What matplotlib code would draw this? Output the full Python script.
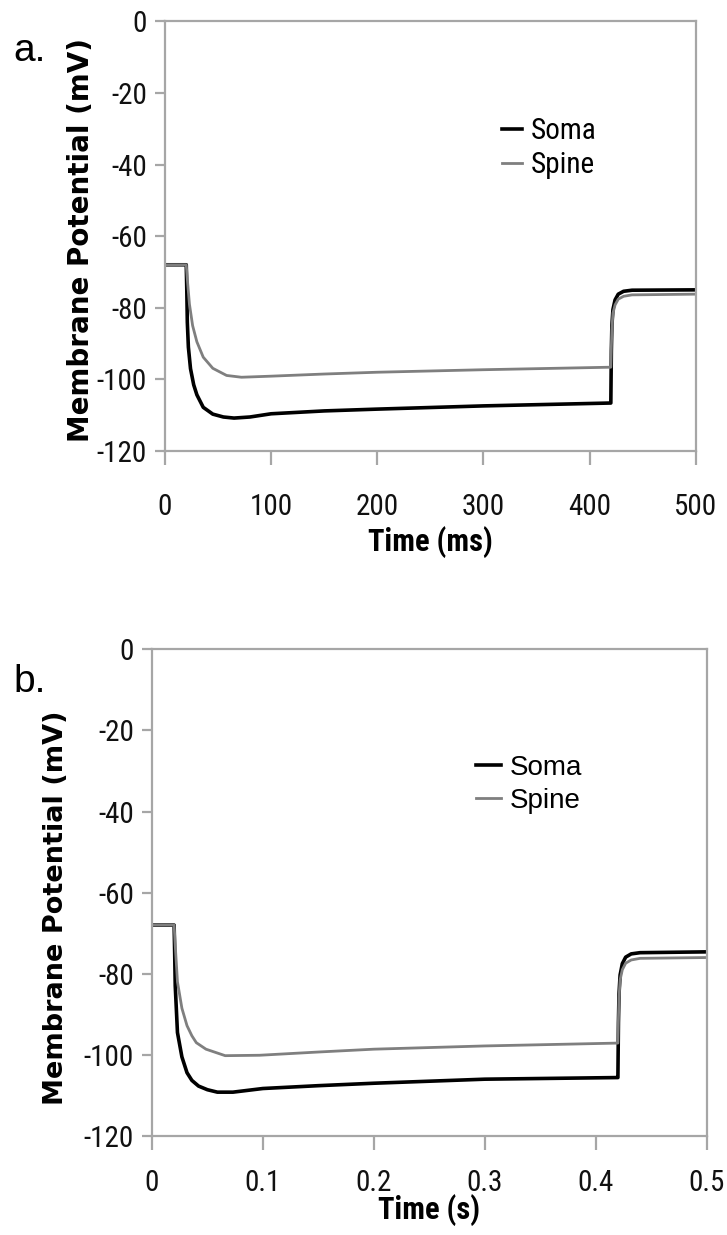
import matplotlib
matplotlib.use("Agg")
import matplotlib.pyplot as plt
from matplotlib import font_manager

plt.rcParams['axes.unicode_minus'] = False

# look for a condensed face for the numbers, else fall back
fonts = font_manager.fontManager.ttflist
names = {f.name for f in fonts}
narrow = None
for c in ['Liberation Sans Narrow', 'Arial Narrow', 'Roboto Condensed', 'Open Sans Condensed',
          'Noto Sans Condensed', 'DejaVu Sans Condensed', 'Noto Sans SemiCondensed']:
    if c in names:
        narrow = {'family': c}
        break
if narrow is None:
    for f in fonts:
        if f.stretch in ('condensed', 'semi-condensed') and f.name in ('DejaVu Sans', 'Noto Sans', 'Roboto', 'Open Sans'):
            narrow = {'family': f.name, 'stretch': f.stretch}
            break
tick_size = 21
if narrow is None:
    narrow = {'family': 'Liberation Sans'}
    tick_size = 19

# panel a: time in ms, membrane potential in mV
t_a_soma = [0, 20, 20.5, 21, 22, 24, 27, 30, 36, 45, 55, 65, 80, 100, 150, 200, 300, 419.5,
            420, 420.5, 421, 422, 424, 427, 432, 440, 500]
v_a_soma = [-68, -68, -75, -84, -91, -97, -101.5, -104.3, -107.8, -109.7, -110.5, -110.8, -110.5,
            -109.6, -108.8, -108.3, -107.4, -106.6,
            -106.6, -92, -85, -80.5, -77.8, -76.2, -75.4, -75.1, -75.0]
t_a_spine = [0, 20, 21, 23, 26, 30, 36, 45, 58, 72, 100, 150, 200, 300, 419.5,
             420, 420.5, 421, 422, 424, 427, 432, 440, 500]
v_a_spine = [-68, -68, -72, -79, -85, -89.5, -93.8, -96.9, -98.9, -99.4, -99.1, -98.5, -98.0,
             -97.3, -96.6,
             -96.6, -91, -86, -81.5, -79.2, -77.6, -76.8, -76.4, -76.2]

# panel b: time in s
t_b_soma = [0, 0.02, 0.0205, 0.021, 0.023, 0.027, 0.0316, 0.036, 0.042, 0.05, 0.059, 0.073,
            0.1, 0.15, 0.2, 0.3, 0.4195,
            0.42, 0.4205, 0.421, 0.422, 0.424, 0.427, 0.432, 0.44, 0.5]
v_b_soma = [-68, -68, -75, -83, -94.5, -100.5, -104.4, -106.3, -107.7, -108.6, -109.2, -109.2,
            -108.3, -107.6, -107.0, -106.0, -105.6,
            -105.6, -92, -85, -80.3, -77.5, -75.9, -75.1, -74.8, -74.6]
t_b_spine = [0, 0.02, 0.021, 0.023, 0.027, 0.0316, 0.036, 0.04, 0.0487, 0.066, 0.097,
             0.15, 0.2, 0.3, 0.4195,
             0.42, 0.4205, 0.421, 0.422, 0.424, 0.427, 0.432, 0.44, 0.5]
v_b_spine = [-68, -68, -73, -82, -88.5, -92.8, -95.3, -97.0, -98.6, -100.2, -100.1,
             -99.3, -98.6, -97.8, -97.1,
             -97.1, -91, -86, -81.5, -79, -77.4, -76.6, -76.2, -76.0]

y_ticks = [0, -20, -40, -60, -80, -100, -120]
x_ticks_a = [0, 100, 200, 300, 400, 500]
x_ticks_b = [0, 0.1, 0.2, 0.3, 0.4, 0.5]
x_labels_b = ['0', '0.1', '0.2', '0.3', '0.4', '0.5']

frame = '#a6a6a6'
spine_grey = '#7f7f7f'

fig = plt.figure(figsize=(7.27, 12.35), dpi=100)


def style(ax, xt, xl, xlim, pad_x):
    ax.set_ylim(-120, 0)
    ax.set_xlim(*xlim)
    ax.set_yticks(y_ticks)
    ax.set_xticks(xt)
    ax.set_xticklabels(xl)
    for s in ax.spines.values():
        s.set_color(frame)
        s.set_linewidth(1.6)
    ax.tick_params(axis='y', direction='out', length=7, width=1.6, color=frame, pad=6,
                   labelsize=tick_size)
    ax.tick_params(axis='x', direction='out', length=10, width=1.6, color=frame, pad=pad_x,
                   labelsize=tick_size)
    for lab in ax.get_xticklabels() + ax.get_yticklabels():
        lab.set_fontproperties(font_manager.FontProperties(size=tick_size, **narrow))
        lab.set_color('#111111')


# ---- panel a ----
ax1 = fig.add_axes([0.227, 0.6348, 0.730, 0.348])
ax1.plot(t_a_soma, v_a_soma, color='black', lw=2.6, label='Soma')
ax1.plot(t_a_spine, v_a_spine, color=spine_grey, lw=2.0, label='Spine')
style(ax1, x_ticks_a, [str(v) for v in x_ticks_a], (0, 500), 20)
ax1.set_xlabel('Time (ms)', fontproperties=font_manager.FontProperties(size=22, weight='bold', **narrow),
               labelpad=4)
ax1.set_ylabel('Membrane Potential (mV)', family='DejaVu Sans', fontweight='bold', fontsize=20)
ax1.yaxis.set_label_coords(-0.132, 0.49)
ax1.legend(loc='center left', bbox_to_anchor=(0.585, 0.705), frameon=False,
           handlelength=0.7, handletextpad=0.3, labelspacing=0.2,
           prop=font_manager.FontProperties(size=21, **narrow))
fig.text(0.018, 0.951, 'a.', fontsize=28, family='Liberation Sans')

# ---- panel b ----
ax2 = fig.add_axes([0.209, 0.0802, 0.763, 0.394])
ax2.plot(t_b_soma, v_b_soma, color='black', lw=2.6, label='Soma')
ax2.plot(t_b_spine, v_b_spine, color=spine_grey, lw=2.0, label='Spine')
style(ax2, x_ticks_b, x_labels_b, (0, 0.5), 14)
ax2.set_xlabel('Time (s)', fontproperties=font_manager.FontProperties(size=22, weight='bold', **narrow),
               labelpad=-2)
ax2.set_ylabel('Membrane Potential (mV)', family='DejaVu Sans', fontweight='bold', fontsize=19.5)
ax2.yaxis.set_label_coords(-0.15, 0.47)
ax2.legend(loc='center left', bbox_to_anchor=(0.54, 0.723), frameon=False,
           handlelength=0.9, handletextpad=0.3, labelspacing=0.25,
           prop={'family': 'Liberation Sans', 'size': 20})
fig.text(0.018, 0.44, 'b.', fontsize=28, family='Liberation Sans')

fig.savefig('out.png', dpi=100)
